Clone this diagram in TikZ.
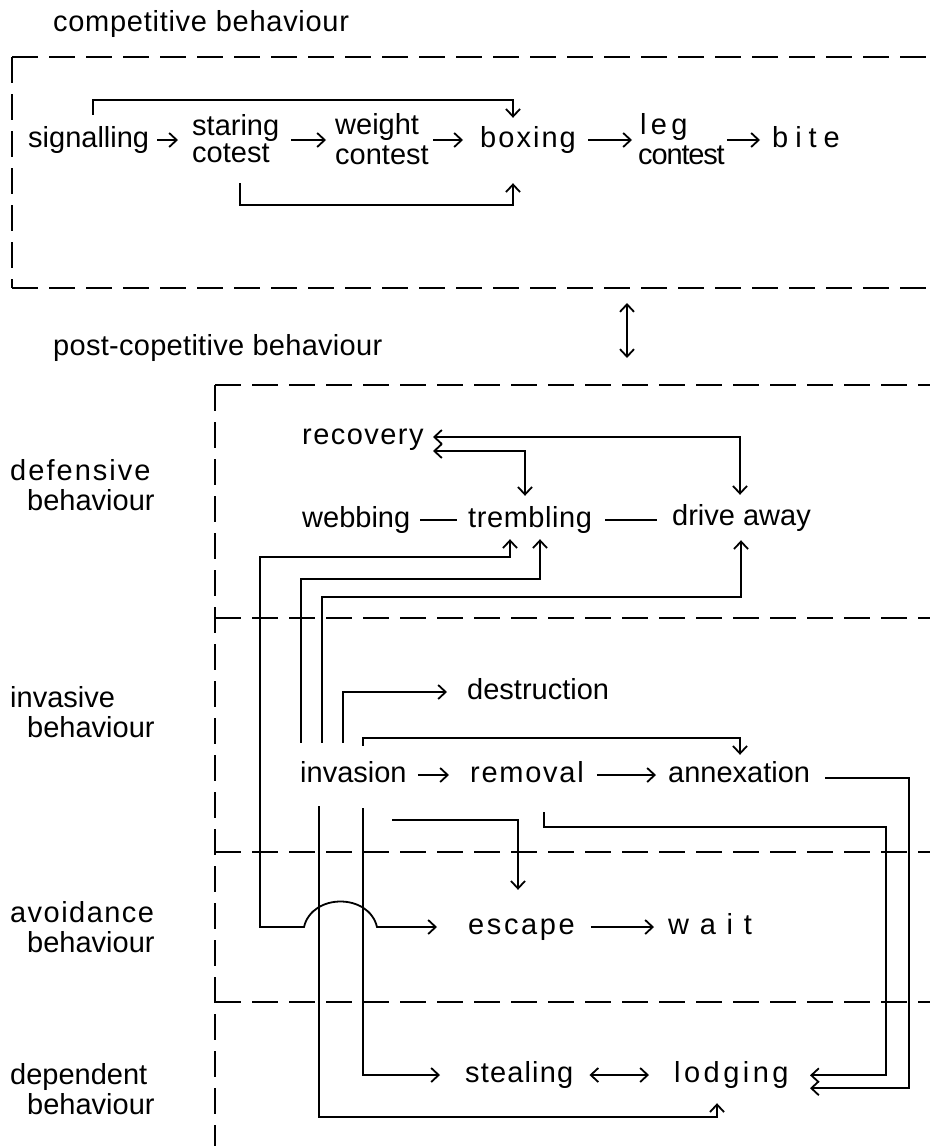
\documentclass[tikz,border=0pt]{standalone}
\usepackage{fontspec}
\setmainfont{Liberation Sans}
\usetikzlibrary{arrows.meta,calc}
\newcommand\fsz{\fontsize{29}{29}\selectfont}
\tikzset{
  lab/.style={anchor=base west, inner sep=0pt, text height=21pt, text depth=6pt, font=\fsz},
  lsp/.style={lab, font=\fsz\addfontfeature{LetterSpace=#1}},
  ln/.style={line width=1.8pt},
  tip/.tip={Straight Barb[length=7.5pt,width=14pt]},
  arr/.style={ln, -tip},
  arrb/.style={ln, tip-tip},
  dsh/.style={line width=1.6pt, dash pattern=on 26pt off 11pt},
}
\begin{document}
\begin{tikzpicture}[x=1pt,y=-1pt]
\useasboundingbox (0,0) rectangle (930,1146);

% ---------- titles and side labels ----------
\node[lsp=2.5] (title1) at (53,31) {competitive behaviour};
\node[lsp=1] (title2) at (53,355) {post-copetitive behaviour};
\node[lsp=7] (defA) at (10,480) {defensive};
\node[lab] (defB) at (27,510) {behaviour};
\node[lab] (invA) at (10,707) {invasive};
\node[lab] (invB) at (27,737) {behaviour};
\node[lsp=5] (avoA) at (10,922) {avoidance};
\node[lab] (avoB) at (27,952) {behaviour};
\node[lab] (depA) at (10,1084) {dependent};
\node[lab] (depB) at (27,1114) {behaviour};

% ---------- boxes ----------
\draw[dsh] (12,57) -- (930,57);
\draw[dsh] (12,57) -- (12,288);
\draw[dsh] (12,288) -- (930,288);
\draw[dsh] (215,385) -- (930,385);
\draw[dsh] (215,385) -- (215,1146);
\draw[dsh] (215,618) -- (930,618);
\draw[dsh] (215,852) -- (930,852);
\draw[dsh] (215,1002) -- (930,1002);
\draw[arrb] (627,303) -- (627,358);

% ---------- competitive behaviour ----------
\node[lab] (signalling) at (28,147.5) {signalling};
\node[lab] (staring) at (192,135.5) {staring};
\node[lab] (cotest) at (192,162.5) {cotest};
\node[lab] (weight) at (335,134.5) {weight};
\node[lab] (contestA) at (335,164.5) {contest};
\node[lsp=7] (boxing) at (480,147.5) {boxing};
\node[lsp=15] (leg) at (640,134.5) {leg};
\node[lsp=-4] (contestB) at (638,164.5) {contest};
\node[lsp=24] (bite) at (772,147.5) {bite};

\draw[arr, shorten <=8pt, shorten >=14pt] (signalling.east) -- (signalling.east -| staring.west);
\draw[arr, shorten <=12pt, shorten >=9pt] (staring.east |- signalling.east) -- (weight.west |- signalling.east);
\draw[arr, shorten <=14pt, shorten >=17pt] (weight.east |- boxing.west) -- (boxing.west);
\draw[arr, shorten <=12pt, shorten >=8pt] (boxing.east) -- (boxing.east -| leg.west);
\draw[arr, shorten <=2pt, shorten >=12pt] (contestB.east |- bite.west) -- (bite.west);
\draw[arr] ($(signalling.north west)+(65,-11.5)$) |- ($(boxing.north west)+(33,-26.5)$) -- ($(boxing.north west)+(33,-8.5)$);
\draw[arr] ($(cotest.south west)+(48,14.5)$) |- ($(boxing.south west)+(33,51.5)$) -- ($(boxing.south west)+(33,29.5)$);

% ---------- defensive ----------
\node[lsp=5] (recovery) at (302,444.5) {recovery};
\node[lab] (webbing) at (302,527.5) {webbing};
\node[lsp=2] (trembling) at (468,527.5) {trembling};
\node[lab] (drive) at (672,525.5) {drive away};

\draw[arrb] ($(recovery.west)+(131,0)$) -| ($(drive.north west)+(68,-9.5)$);
\draw[arrb] ($(recovery.west)+(131,14)$) -| ($(trembling.north west)+(57,-10.5)$);
\draw[ln, shorten <=10pt, shorten >=11pt] (webbing.east) -- (webbing.east -| trembling.west);
\draw[ln, shorten <=13pt, shorten >=15pt] (trembling.east) -- (trembling.east -| drive.west);

% ---------- invasive ----------
\node[lab] (destruction) at (467,699.5) {destruction};
\node[lab] (invasion) at (300,782.5) {invasion};
\node[lsp=6] (removal) at (470,782.5) {removal};
\node[lab] (annexation) at (668,782.5) {annexation};

\draw[arr, shorten <=11pt, shorten >=21pt] (invasion.east) -- (invasion.east -| removal.west);
\draw[arr, shorten <=13pt, shorten >=12pt] (removal.east) -- (removal.east -| annexation.west);
\draw[arr] ($(invasion.north west)+(1,-18.5)$) |- ($(trembling.south west)+(72,45.5)$) -- ($(trembling.south west)+(72,5.5)$);
\draw[arr] ($(invasion.north west)+(22,-18.5)$) |- ($(drive.south west)+(69,65.5)$) -- ($(drive.south west)+(69,8.5)$);
\draw[arr, shorten >=20pt] ($(invasion.north west)+(43,-18.5)$) |- (destruction.west);
\draw[arr] ($(invasion.north west)+(63,-15.5)$) |- ($(annexation.north west)+(72,-23.5)$) -- ($(annexation.north west)+(72,-6.5)$);

% ---------- avoidance ----------
\node[lsp=9] (escape) at (468,934.5) {escape};
\node[lsp=37] (wait) at (668,934.5) {wait};
\draw[arr, shorten <=16pt, shorten >=14pt] (escape.east) -- (escape.east -| wait.west);
\draw[arr] ($(invasion.south west)+(92,31.5)$) -| ($(escape.north west)+(50,-23.5)$);
\draw[arrb] ($(trembling.south west)+(42,5.5)$) |- (260,557) |- (304,927)
  .. controls (312,893) and (369,893) .. (377,927) -- ($(escape.west)+(-31,0)$);

% ---------- dependent ----------
\node[lsp=4] (stealing) at (465,1082.5) {stealing};
\node[lsp=12] (lodging) at (674,1082.5) {lodging};
\draw[arrb, shorten <=16pt, shorten >=25pt] (stealing.east) -- (stealing.east -| lodging.west);
\draw[arr, shorten >=25pt] ($(invasion.south west)+(63,19.5)$) |- (stealing.west);
\draw[arr] ($(invasion.south west)+(19,17.5)$) |- ($(lodging.south west)+(43,28.5)$) -- ($(lodging.south west)+(43,14.5)$);
\draw[arr] ($(removal.south west)+(74,23.5)$) |- ($(lodging.north west)+(212,-234)$) |- ($(lodging.north west)+(136,14)$);
\draw[arr] ($(annexation.east)+(15,3)$) -| ($(lodging.south west)+(235,-0.5)$) -- ($(lodging.south west)+(136,-0.5)$);
\end{tikzpicture}
\end{document}
